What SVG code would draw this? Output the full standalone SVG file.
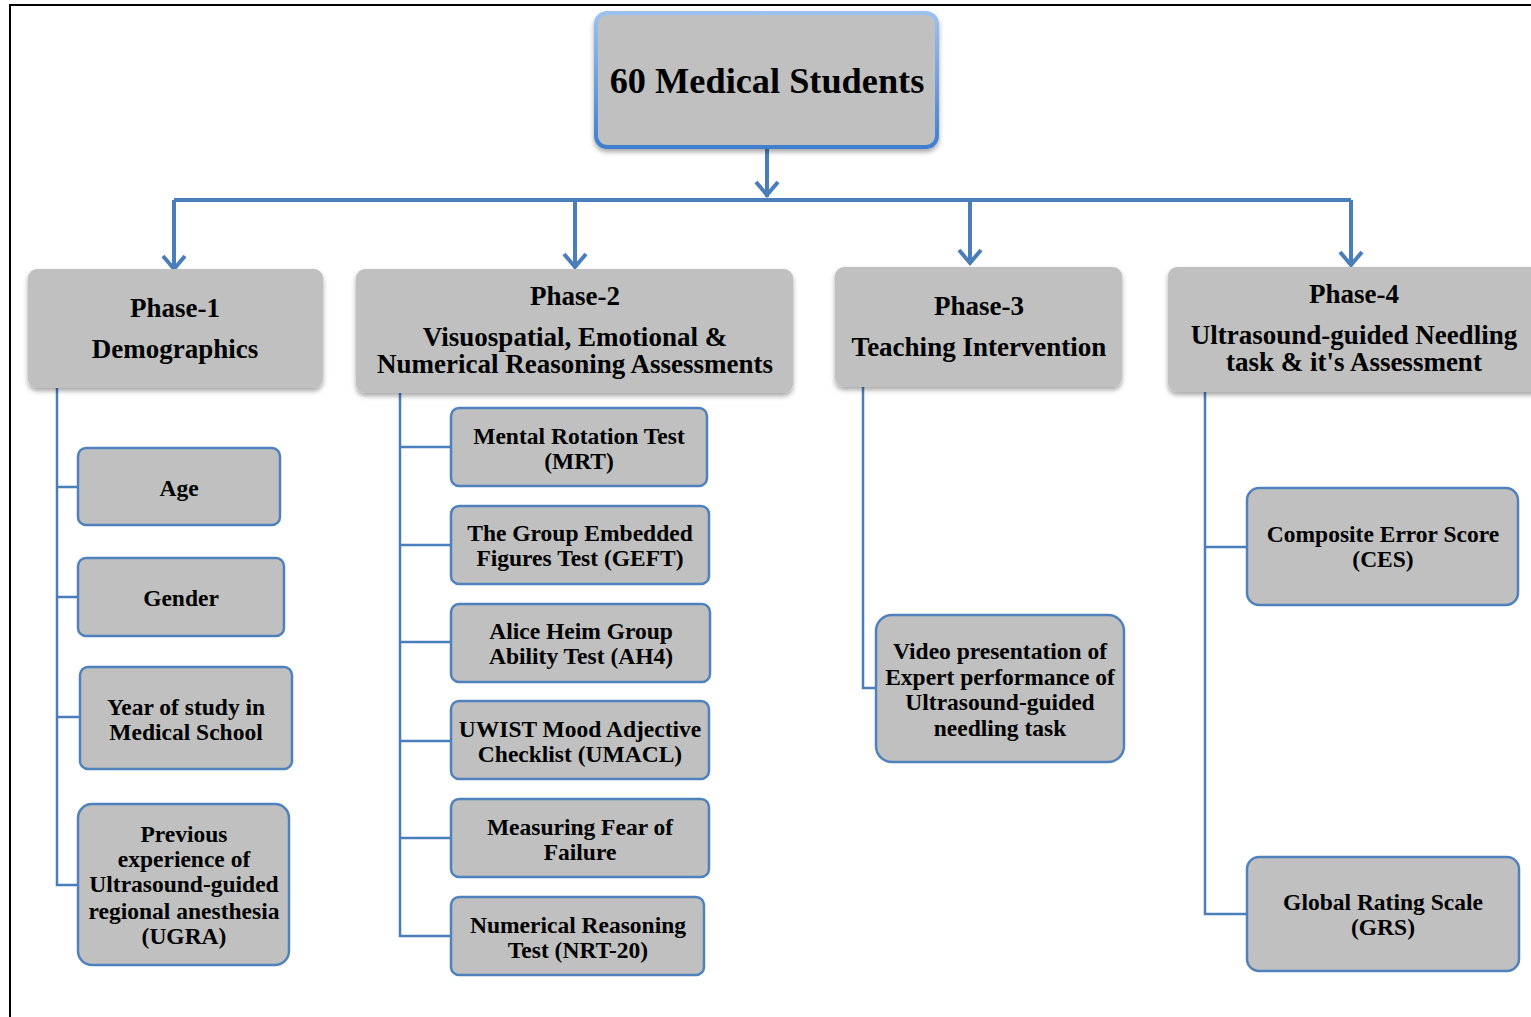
<svg xmlns="http://www.w3.org/2000/svg" width="1531" height="1017" viewBox="0 0 1531 1017">
<style>
text{font-family:"Liberation Serif","Times New Roman",serif;font-weight:bold;fill:#000;text-anchor:middle}
.top{font-size:36.3px}
.ph{font-size:27px}
.ch{font-size:23.5px}
.phase{fill:#c0c0c0}
.child{fill:#c0c0c0;stroke:#4f81bd;stroke-width:2.5}
.conn{fill:none;stroke:#4a7ebb;stroke-width:4}
.thin{fill:none;stroke:#4a7ebb;stroke-width:2.5}
</style>
<defs>
<linearGradient id="bg" x1="0" y1="0" x2="0" y2="1">
<stop offset="0" stop-color="#9cc2f0"/>
<stop offset="1" stop-color="#3f7fd0"/>
</linearGradient>
<filter id="sh" x="-5%" y="-5%" width="110%" height="120%">
<feDropShadow dx="0" dy="3" stdDeviation="2.5" flood-color="#000" flood-opacity="0.35"/>
</filter>
</defs>
<rect width="1531" height="1017" fill="#fff"/>
<path d="M10 1017 V5 H1531" fill="none" stroke="#000" stroke-width="2"/>

<g id="connectors">
<path class="conn" d="M767 147 V197"/>
<path class="conn" d="M756 182 L767 195 L778 182"/>
<path class="conn" d="M174 200 H1351"/>
<path class="conn" d="M174 200 V270"/>
<path class="conn" d="M163 256 L174 269 L185 256"/>
<path class="conn" d="M575 200 V268"/>
<path class="conn" d="M564 254 L575 267 L586 254"/>
<path class="conn" d="M970 200 V264"/>
<path class="conn" d="M959 250 L970 263 L981 250"/>
<path class="conn" d="M1351 200 V266"/>
<path class="conn" d="M1340 252 L1351 265 L1362 252"/>
<path class="thin" d="M57 388 V885 H80"/>
<path class="thin" d="M57 487 H80"/>
<path class="thin" d="M57 597 H80"/>
<path class="thin" d="M57 717 H82"/>
<path class="thin" d="M400 393 V936 H452"/>
<path class="thin" d="M400 447 H452"/>
<path class="thin" d="M400 545 H452"/>
<path class="thin" d="M400 642 H452"/>
<path class="thin" d="M400 741 H452"/>
<path class="thin" d="M400 838 H452"/>
<path class="thin" d="M863 387 V688 H877"/>
<path class="thin" d="M1205 392 V914 H1248"/>
<path class="thin" d="M1205 547 H1248"/>
</g>

<g id="root">
<rect x="596" y="13" width="341" height="134" rx="11" fill="#c0c0c0" stroke="url(#bg)" stroke-width="4" filter="url(#sh)"/>
<text class="top" x="767" y="93">60 Medical Students</text>
</g>

<g id="phase1">
<rect class="phase" x="28" y="269" width="295" height="119" rx="9" filter="url(#sh)"/>
<text class="ph" x="175" y="317">Phase-1</text>
<text class="ph" x="175" y="358">Demographics</text>
</g>
<g id="phase2">
<rect class="phase" x="356" y="269" width="437" height="124" rx="9" filter="url(#sh)"/>
<text class="ph" x="575" y="305">Phase-2</text>
<text class="ph" x="575" y="346">Visuospatial, Emotional &amp;</text>
<text class="ph" x="575" y="373">Numerical Reasoning Assessments</text>
</g>
<g id="phase3">
<rect class="phase" x="835" y="267" width="287" height="120" rx="9" filter="url(#sh)"/>
<text class="ph" x="979" y="315">Phase-3</text>
<text class="ph" x="979" y="356">Teaching Intervention</text>
</g>
<g id="phase4">
<rect class="phase" x="1168" y="267" width="380" height="125" rx="9" filter="url(#sh)"/>
<text class="ph" x="1354" y="303">Phase-4</text>
<text class="ph" x="1354" y="344">Ultrasound-guided Needling</text>
<text class="ph" x="1354" y="371">task &amp; it's Assessment</text>
</g>

<g id="age">
<rect class="child" x="78" y="448" width="202" height="77" rx="8"/>
<text class="ch" x="179" y="496">Age</text>
</g>
<g id="gender">
<rect class="child" x="78" y="558" width="206" height="78" rx="8"/>
<text class="ch" x="181" y="606">Gender</text>
</g>
<g id="year">
<rect class="child" x="80" y="667" width="212" height="102" rx="8"/>
<text class="ch" x="186" y="715">Year of study in</text>
<text class="ch" x="186" y="740">Medical School</text>
</g>
<g id="previous">
<rect class="child" x="78" y="804" width="211" height="161" rx="14"/>
<text class="ch" x="184" y="842">Previous</text>
<text class="ch" x="184" y="867">experience of</text>
<text class="ch" x="184" y="892">Ultrasound-guided</text>
<text class="ch" x="184" y="919">regional anesthesia</text>
<text class="ch" x="184" y="944">(UGRA)</text>
</g>

<g id="mrt">
<rect class="child" x="451" y="408" width="256" height="78" rx="8"/>
<text class="ch" x="579" y="444">Mental Rotation Test</text>
<text class="ch" x="579" y="469">(MRT)</text>
</g>
<g id="geft">
<rect class="child" x="451" y="506" width="258" height="78" rx="8"/>
<text class="ch" x="580" y="541">The Group Embedded</text>
<text class="ch" x="580" y="566">Figures Test (GEFT)</text>
</g>
<g id="ah4">
<rect class="child" x="451" y="604" width="259" height="78" rx="8"/>
<text class="ch" x="581" y="639">Alice Heim Group</text>
<text class="ch" x="581" y="664">Ability Test (AH4)</text>
</g>
<g id="umacl">
<rect class="child" x="451" y="701" width="258" height="78" rx="8"/>
<text class="ch" x="580" y="737">UWIST Mood Adjective</text>
<text class="ch" x="580" y="762">Checklist (UMACL)</text>
</g>
<g id="fear">
<rect class="child" x="451" y="799" width="258" height="78" rx="8"/>
<text class="ch" x="580" y="835">Measuring Fear of</text>
<text class="ch" x="580" y="860">Failure</text>
</g>
<g id="nrt">
<rect class="child" x="451" y="897" width="253" height="78" rx="8"/>
<text class="ch" x="578" y="933">Numerical Reasoning</text>
<text class="ch" x="578" y="958">Test (NRT-20)</text>
</g>

<g id="video">
<rect class="child" x="876" y="615" width="248" height="147" rx="16"/>
<text class="ch" x="1000" y="659">Video presentation of</text>
<text class="ch" x="1000" y="685">Expert performance of</text>
<text class="ch" x="1000" y="710">Ultrasound-guided</text>
<text class="ch" x="1000" y="736">needling task</text>
</g>

<g id="ces">
<rect class="child" x="1247" y="488" width="271" height="117" rx="12"/>
<text class="ch" x="1383" y="542">Composite Error Score</text>
<text class="ch" x="1383" y="567">(CES)</text>
</g>
<g id="grs">
<rect class="child" x="1247" y="857" width="272" height="114" rx="12"/>
<text class="ch" x="1383" y="910">Global Rating Scale</text>
<text class="ch" x="1383" y="935">(GRS)</text>
</g>
</svg>
